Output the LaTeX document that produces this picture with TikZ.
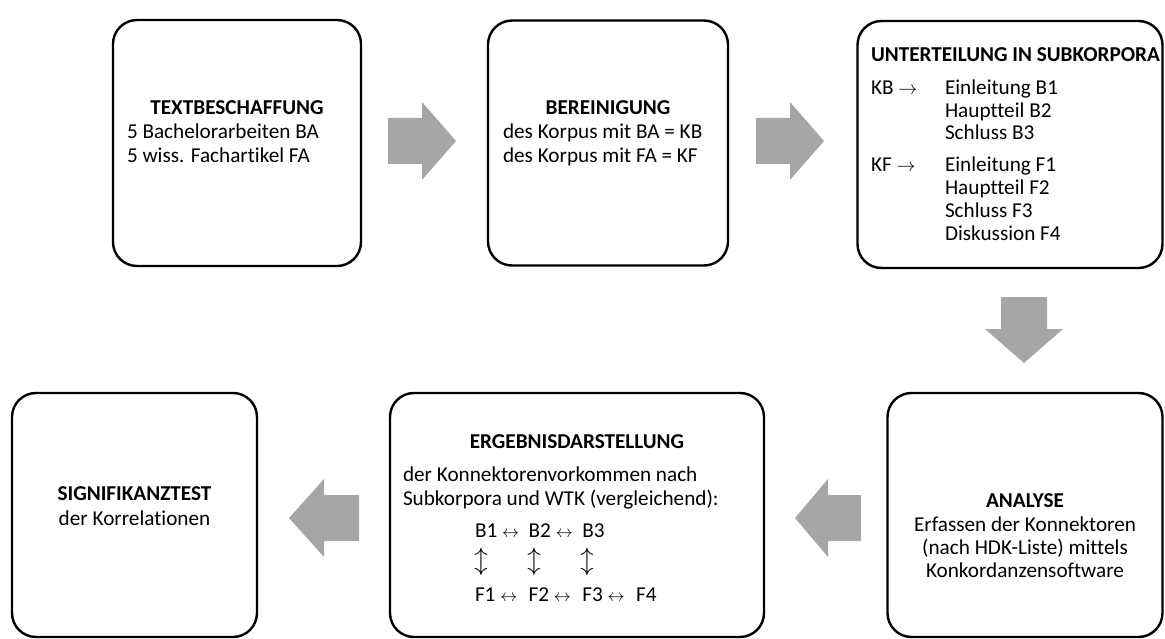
\RequirePackage{fix-cm}
\documentclass[tikz,border=0pt]{standalone}
\usepackage{graphicx}
\usepackage{fontspec}
\setmainfont{Carlito}[Ligatures=NoCommon]
\definecolor{arrowgray}{RGB}{166,166,166}
\newcommand{\arw}[2]{\resizebox{#1}{!}{$#2$}}
\newcommand{\arh}[2]{\resizebox{!}{#1}{$#2$}}
\newcommand{\cell}[1]{\makebox[53.7pt][l]{#1}}
\begin{document}
\begin{tikzpicture}[x=1pt,y=-1pt,
  box/.style={draw=black, line width=2.4pt, rounded corners=24pt, inner sep=0pt},
  blockarrow/.style={fill=arrowgray, draw=none},
  txt/.style={inner sep=0pt, outer sep=0pt, font=\fontsize{21.2}{24}\selectfont},
  head/.style={txt, font=\fontsize{21.2}{24}\selectfont\bfseries, anchor=base},
  lft/.style={txt, anchor=base west},
  ctr/.style={txt, anchor=base}]
\useasboundingbox (0,0) rectangle (1165,639);
% boxes
\node[box, minimum width=248pt, minimum height=246pt] (b1) at (237,143) {};
\node[box, minimum width=240pt, minimum height=245pt] (b2) at (608,143) {};
\node[box, minimum width=305pt, minimum height=247pt] (b3) at (1010,144.5) {};
\node[box, minimum width=275pt, minimum height=244pt] (b4) at (1025,515) {};
\node[box, minimum width=374pt, minimum height=244pt] (b5) at (577,515) {};
\node[box, minimum width=245pt, minimum height=244pt] (b6) at (134.5,515) {};
% block arrows
\fill[blockarrow] (388,118) -- (422,118) -- (422,102) -- (456,141) -- (422,180) -- (422,164) -- (388,164) -- cycle;
\fill[blockarrow] (756,118) -- (790,118) -- (790,102) -- (824,141) -- (790,180) -- (790,164) -- (756,164) -- cycle;
\fill[blockarrow] (1001,297) -- (1047,297) -- (1047,329) -- (1063,329) -- (1024,363) -- (985,329) -- (1001,329) -- cycle;
\fill[blockarrow] (861,495) -- (828,495) -- (828,479) -- (795,518) -- (828,557) -- (828,541) -- (861,541) -- cycle;
\fill[blockarrow] (359,495) -- (324,495) -- (324,479) -- (289,518) -- (324,557) -- (324,541) -- (359,541) -- cycle;
% box 1
\node[head] (t1) at (237,115) {TEXTBESCHAFFUNG};
\node[lft] (t1a) at (127,139) {5 Bachelorarbeiten BA};
\node[lft] (t1b) at (127,163) {5 wiss. Fachartikel FA};
% box 2
\node[head] (t2) at (608,115) {BEREINIGUNG};
\node[lft] (t2a) at (503,139) {des Korpus mit BA = KB};
\node[lft] (t2b) at (503,163) {des Korpus mit FA = KF};
% box 3
\node[head, anchor=base west] (t3) at (871,62) {UNTERTEILUNG IN SUBKORPORA};
\node[lft] (kb) at (871,95) {KB \arw{19pt}{\rightarrow}};
\node[lft] (b31) at (945,95) {Einleitung B1};
\node[lft] (b32) at (945,118) {Hauptteil B2};
\node[lft] (b33) at (945,140) {Schluss B3};
\node[lft] (kf) at (871,172) {KF \arw{19pt}{\rightarrow}};
\node[lft] (f31) at (945,172) {Einleitung F1};
\node[lft] (f32) at (945,195) {Hauptteil F2};
\node[lft] (f33) at (945,218) {Schluss F3};
\node[lft] (f34) at (945,241) {Diskussion F4};
% box 4
\node[head] (t4) at (1025,507) {ANALYSE};
\node[ctr] (t4a) at (1025,531) {Erfassen der Konnektoren};
\node[ctr] (t4b) at (1025,554) {(nach HDK-Liste) mittels};
\node[ctr] (t4c) at (1025,577) {Konkordanzensoftware};
% box 5
\node[head] (t5) at (577,448) {ERGEBNISDARSTELLUNG};
\node[lft] (t5a) at (403,481) {der Konnektorenvorkommen nach};
\node[lft] (t5b) at (403,505) {Subkorpora und WTK (vergleichend):};
\node[lft] (rowb) at (475,537) {\cell{B1 \arw{17pt}{\leftrightarrow}}\cell{B2 \arw{17pt}{\leftrightarrow}}B3};
\node[txt] (v1) at (481,562) {\arh{20pt}{\updownarrow}};
\node[txt] (v2) at (534,562) {\arh{20pt}{\updownarrow}};
\node[txt] (v3) at (587,562) {\arh{20pt}{\updownarrow}};
\node[lft] (rowf) at (475,601) {\cell{F1 \arw{17pt}{\leftrightarrow}}\cell{F2 \arw{17pt}{\leftrightarrow}}\cell{F3 \arw{17pt}{\leftrightarrow}}F4};
% box 6
\node[head] (t6) at (134.5,500) {SIGNIFIKANZTEST};
\node[ctr] (t6a) at (134.5,525) {der Korrelationen};
\end{tikzpicture}
\end{document}
